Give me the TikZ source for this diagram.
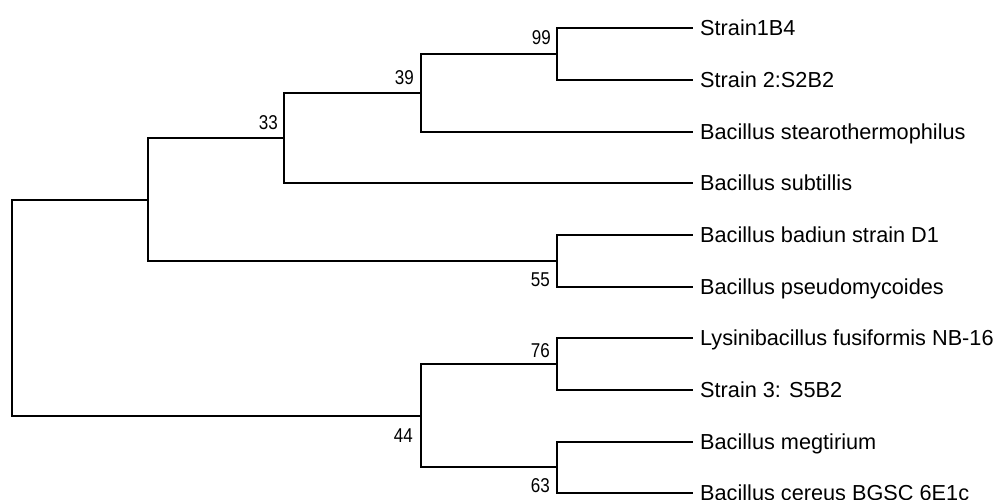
\documentclass[tikz,border=0pt]{standalone}
\usepackage{fontspec}
\setmainfont{Liberation Sans}
\begin{document}
\begin{tikzpicture}[x=1pt,y=-1pt,
  br/.style={draw=black, line width=1.5pt, line cap=rect},
  leaf/.style={anchor=west, inner ysep=0pt, inner xsep=8pt, text height=15pt, text depth=0pt, font=\fontsize{21.7}{22}\selectfont},
  bs/.style={anchor=east, inner sep=0pt, text height=14pt, text depth=0pt, font=\fontsize{20}{20}\selectfont}]
\useasboundingbox (0,0) rectangle (997,500);
% leaves
\node[leaf] (t1) at (692,28) {Strain1B4};
\node[leaf] (t2) at (692,80) {Strain 2:S2B2};
\node[leaf] (t3) at (692,132) {Bacillus stearothermophilus};
\node[leaf] (t4) at (692,183) {Bacillus subtillis};
\node[leaf] (t5) at (692,235) {Bacillus badiun strain D1};
\node[leaf] (t6) at (692,287) {Bacillus pseudomycoides};
\node[leaf] (t7) at (692,338) {Lysinibacillus fusiformis NB-16};
\node[leaf] (t8) at (692,390) {Strain 3: S5B2};
\node[leaf] (t9) at (692,442) {Bacillus megtirium};
\node[leaf] (t10) at (692,493) {Bacillus cereus BGSC 6E1c};
% internal nodes
\coordinate (n99) at (557,54);
\coordinate (n39) at (421,93);
\coordinate (n33) at (284,138);
\coordinate (nU) at (148,200);
\coordinate (n55) at (557,261);
\coordinate (n76) at (557,364);
\coordinate (n63) at (557,467);
\coordinate (n44) at (421,416);
\coordinate (root) at (12,308);
% branches
\draw[br] (n99) |- (t1.west);
\draw[br] (n99) |- (t2.west);
\draw[br] (n39) |- (n99);
\draw[br] (n39) |- (t3.west);
\draw[br] (n33) |- (n39);
\draw[br] (n33) |- (t4.west);
\draw[br] (nU) |- (n33);
\draw[br] (nU) |- (n55);
\draw[br] (n55) |- (t5.west);
\draw[br] (n55) |- (t6.west);
\draw[br] (n76) |- (t7.west);
\draw[br] (n76) |- (t8.west);
\draw[br] (n63) |- (t9.west);
\draw[br] (n63) |- (t10.west);
\draw[br] (n44) |- (n76);
\draw[br] (n44) |- (n63);
\draw[br] (root) |- (nU);
\draw[br] (root) |- (n44);
% bootstrap labels
\node[bs] (b99) at (551,38) {\scalebox{0.85}[1]{99}};
\node[bs] (b39) at (414,78) {\scalebox{0.85}[1]{39}};
\node[bs] (b33) at (278,123) {\scalebox{0.85}[1]{33}};
\node[bs] (b55) at (550,279) {\scalebox{0.85}[1]{55}};
\node[bs] (b76) at (550,350) {\scalebox{0.85}[1]{76}};
\node[bs] (b44) at (413,435) {\scalebox{0.85}[1]{44}};
\node[bs] (b63) at (550,485) {\scalebox{0.85}[1]{63}};
\end{tikzpicture}
\end{document}
